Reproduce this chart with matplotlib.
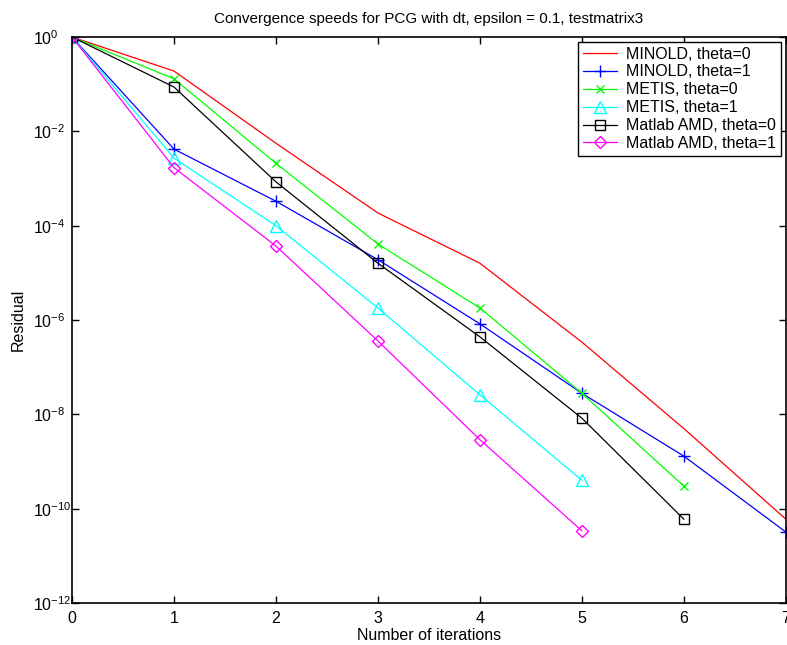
import matplotlib
matplotlib.use("Agg")
import matplotlib.pyplot as plt
import numpy as np

plt.rcParams['font.family'] = ['Liberation Sans', 'DejaVu Sans']
plt.rcParams['mathtext.fontset'] = 'custom'
plt.rcParams['mathtext.rm'] = 'Liberation Sans'
plt.rcParams['mathtext.it'] = 'Liberation Sans'
plt.rcParams['mathtext.default'] = 'regular'

# residual per iteration
it_minold0 = [0, 1, 2, 3, 4, 5, 6, 7]
minold0 = [1.0, 0.19, 5.6e-3, 1.86e-4, 1.6e-5, 3.4e-7, 5e-9, 6e-11]

it_minold1 = [0, 1, 2, 3, 4, 5, 6, 7]
minold1 = [1.0, 4.2e-3, 3.3e-4, 1.9e-5, 8.3e-7, 2.8e-8, 1.3e-9, 3.2e-11]

it_metis0 = [0, 1, 2, 3, 4, 5, 6]
metis0 = [1.0, 0.13, 2.1e-3, 4.1e-5, 1.8e-6, 2.8e-8, 3e-10]

it_metis1 = [0, 1, 2, 3, 4, 5]
metis1 = [1.0, 2.7e-3, 1e-4, 1.8e-6, 2.6e-8, 4e-10]

it_amd0 = [0, 1, 2, 3, 4, 5, 6]
amd0 = [1.0, 0.087, 8.5e-4, 1.6e-5, 4.4e-7, 8.3e-9, 6e-11]

it_amd1 = [0, 1, 2, 3, 4, 5]
amd1 = [1.0, 1.7e-3, 3.7e-5, 3.6e-7, 2.9e-9, 3.4e-11]

fig = plt.figure(figsize=(7.87, 6.45), dpi=100)
ax = fig.add_axes([0.0915, 0.0651, 0.907, 0.8775])

lw = 0.9
ax.semilogy(it_minold0, minold0, '-', color='#ff0000', lw=lw, label='MINOLD, theta=0')
ax.semilogy(it_minold1, minold1, '-+', color='#0000ff', lw=lw, ms=9, mew=1,
            label='MINOLD, theta=1')
ax.semilogy(it_metis0, metis0, '-x', color='#00ff00', lw=lw, ms=6, mew=1,
            label='METIS, theta=0')
ax.semilogy(it_metis1, metis1, '-^', color='#00ffff', lw=lw, ms=8, mew=1,
            mfc='none', label='METIS, theta=1')
ax.semilogy(it_amd0, amd0, '-s', color='#000000', lw=lw, ms=7, mew=1,
            mfc='none', label='Matlab AMD, theta=0')
ax.semilogy(it_amd1, amd1, '-D', color='#ff00ff', lw=lw, ms=6, mew=1,
            mfc='none', label='Matlab AMD, theta=1')

ax.set_xlim(0, 7)
ax.set_ylim(1e-12, 1e0)
ax.set_xticks(range(8))
ax.set_yticks([10.0 ** k for k in range(-12, 1, 2)])
ax.set_yticklabels([r'$10^{%d}$' % k for k in range(-12, 1, 2)])
ax.minorticks_off()
ax.tick_params(direction='in', top=True, right=True, length=5, width=1,
               labelsize=11.5)
ax.tick_params(axis='x', pad=6)
# matlab puts the "10" of each y label at the same x
ax.tick_params(axis='y', pad=28)
for lab in ax.get_yticklabels():
    lab.set_horizontalalignment('left')
for s in ax.spines.values():
    s.set_linewidth(1.2)

ax.set_xlabel('Number of iterations', fontsize=11.5, labelpad=1)
ax.set_ylabel('Residual', fontsize=11.5)
ax.yaxis.set_label_coords(-0.065, 0.5)
ax.set_title('Convergence speeds for PCG with dt, epsilon = 0.1, testmatrix3',
             fontsize=11, pad=10)

leg = ax.legend(loc='upper right', fontsize=11.5, handlelength=2.1,
                borderaxespad=0.3, labelspacing=0.18, handletextpad=0.6,
                borderpad=0.3, fancybox=False, framealpha=1)
leg.get_frame().set_edgecolor('black')
leg.get_frame().set_linewidth(1)

fig.savefig('out.png', dpi=100)
